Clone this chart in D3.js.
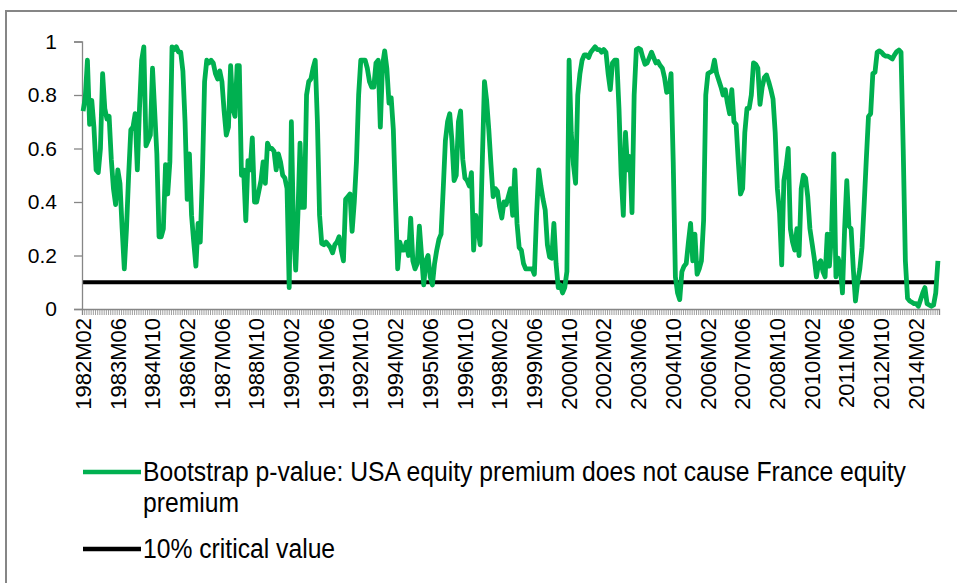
<!DOCTYPE html>
<html>
<head>
<meta charset="utf-8">
<script src="https://cdn.jsdelivr.net/npm/d3@7/dist/d3.min.js"></script>
<style>
body { margin: 0; background: #fff; }
svg { display: block; font-family: "Liberation Sans", Arial, sans-serif; }
</style>
</head>
<body>
<svg id="chart" width="957" height="583"></svg>
<script>
// monthly categories 1982M02 .. 2014M12
var startYear = 1982, startMonth = 2, monthCount = 395;
var labelEvery = 16;
var yTicks = [0, 0.2, 0.4, 0.6, 0.8, 1];
var criticalValue = 0.1;
var seriesNames = ["Bootstrap p-value: USA equity premium does not cause France equity premium", "10% critical value"];
var legendLines = ["Bootstrap p-value: USA equity premium does not cause France equity", "premium"];

var pValues = [
  0.74,0.79,0.93,0.69,0.78,0.68,0.52,0.51,0.60,0.88,
  0.75,0.71,0.72,0.56,0.45,0.39,0.52,0.47,0.30,0.15,
  0.30,0.50,0.67,0.68,0.73,0.52,0.75,0.93,0.98,0.61,
  0.63,0.65,0.90,0.74,0.58,0.27,0.27,0.30,0.54,0.43,
  0.55,0.98,0.97,0.98,0.96,0.96,0.89,0.70,0.41,0.58,
  0.35,0.25,0.16,0.32,0.25,0.50,0.85,0.93,0.92,0.93,
  0.92,0.88,0.86,0.89,0.85,0.74,0.65,0.68,0.91,0.75,
  0.72,0.91,0.91,0.50,0.52,0.33,0.555,0.52,0.64,0.40,
  0.40,0.44,0.48,0.55,0.47,0.62,0.60,0.60,0.59,0.52,
  0.58,0.55,0.50,0.49,0.45,0.08,0.70,0.29,0.145,0.35,
  0.62,0.38,0.38,0.80,0.85,0.86,0.90,0.93,0.70,0.35,
  0.245,0.24,0.25,0.24,0.23,0.21,0.24,0.25,0.27,0.22,
  0.18,0.41,0.42,0.43,0.29,0.40,0.55,0.80,0.93,0.93,
  0.93,0.90,0.85,0.83,0.83,0.92,0.93,0.68,0.91,0.965,
  0.90,0.77,0.79,0.67,0.40,0.15,0.25,0.22,0.22,0.25,
  0.20,0.34,0.18,0.15,0.17,0.31,0.20,0.09,0.18,0.20,
  0.12,0.09,0.17,0.22,0.26,0.28,0.45,0.63,0.70,0.73,
  0.63,0.48,0.50,0.70,0.74,0.56,0.49,0.48,0.46,0.51,
  0.22,0.35,0.30,0.24,0.55,0.85,0.78,0.67,0.54,0.42,
  0.45,0.44,0.38,0.34,0.40,0.39,0.42,0.45,0.35,0.52,
  0.32,0.23,0.22,0.17,0.15,0.15,0.15,0.15,0.13,0.35,
  0.52,0.46,0.41,0.37,0.24,0.195,0.19,0.32,0.17,0.08,
  0.09,0.06,0.08,0.14,0.93,0.66,0.54,0.47,0.80,0.88,
  0.93,0.95,0.95,0.94,0.96,0.97,0.98,0.97,0.97,0.96,
  0.97,0.96,0.88,0.82,0.92,0.93,0.93,0.75,0.50,0.35,
  0.66,0.52,0.57,0.36,0.80,0.97,0.975,0.97,0.94,0.915,
  0.92,0.94,0.96,0.94,0.92,0.925,0.91,0.90,0.865,0.81,
  0.815,0.88,0.55,0.12,0.06,0.035,0.14,0.16,0.17,0.25,
  0.32,0.18,0.28,0.13,0.15,0.18,0.33,0.80,0.88,0.885,
  0.89,0.93,0.88,0.855,0.83,0.80,0.82,0.77,0.73,0.82,
  0.70,0.69,0.55,0.43,0.45,0.66,0.75,0.75,0.80,0.92,
  0.915,0.90,0.765,0.83,0.865,0.875,0.85,0.82,0.785,0.66,
  0.45,0.36,0.165,0.48,0.53,0.60,0.30,0.25,0.22,0.30,
  0.20,0.45,0.50,0.49,0.42,0.30,0.245,0.19,0.12,0.17,
  0.18,0.14,0.12,0.28,0.16,0.29,0.58,0.12,0.19,0.16,
  0.06,0.30,0.48,0.31,0.30,0.15,0.03,0.10,0.15,0.23,
  0.39,0.56,0.72,0.73,0.88,0.885,0.96,0.965,0.96,0.95,
  0.945,0.945,0.94,0.935,0.95,0.962,0.968,0.96,0.60,0.18,
  0.04,0.03,0.025,0.02,0.02,0.01,0.035,0.06,0.08,0.02,
  0.015,0.01,0.015,0.06,0.18
];

var months = [];
for (var k = 0; k < monthCount; k++) {
  var mm = startMonth - 1 + k;
  var yr = startYear + Math.floor(mm / 12), mo = mm % 12 + 1;
  months.push(yr + "M" + (mo < 10 ? "0" : "") + mo);
}

var green = "#00b050", grey = "#868686";
var plot = { left: 82, right: 939, top: 41.5, bottom: 309 };

var svg = d3.select("#chart");

// outer chart frame (only the top and left edges are inside the picture)
svg.append("rect")
  .attr("x", 6).attr("y", 11).attr("width", 1200).attr("height", 1200)
  .attr("fill", "none").attr("stroke", grey).attr("stroke-width", 2);

var x = d3.scaleBand().domain(months).range([plot.left, plot.right]);
var xEdge = d3.scaleLinear().domain([0, months.length]).range([plot.left, plot.right]);
var y = d3.scaleLinear().domain([0, 1]).range([plot.bottom, plot.top]);
var cx = function(m){ return x(m) + x.bandwidth() / 2; };

// y axis
var yAxis = svg.append("g")
  .attr("transform", "translate(" + plot.left + ",0)")
  .call(d3.axisLeft(y).tickValues(yTicks).tickSize(8).tickPadding(17)
    .tickFormat(function(d){ return d === 0 || d === 1 ? d : d3.format(".1f")(d); }));
yAxis.select(".domain").attr("stroke", grey).attr("stroke-width", 1.3);
yAxis.selectAll(".tick line").attr("stroke", grey).attr("stroke-width", 1.3);
yAxis.selectAll(".tick text").attr("font-size", 21).attr("fill", "#000")
  .attr("font-family", "Liberation Sans, Arial, sans-serif");

// x axis: a tick at every category boundary
var xAxis = svg.append("g")
  .attr("transform", "translate(0," + plot.bottom + ")")
  .call(d3.axisBottom(xEdge).tickValues(d3.range(months.length + 1)).tickSize(6).tickFormat(""));
xAxis.select(".domain").attr("stroke", grey).attr("stroke-width", 1.3);
xAxis.selectAll(".tick line").attr("stroke", grey).attr("stroke-width", 0.8);

var xLabels = months.filter(function(m, i){ return i % labelEvery === 0; });
svg.append("g").selectAll("text")
  .data(xLabels).enter().append("text")
  .attr("transform", function(m){ return "translate(" + cx(m) + "," + (plot.bottom + 9) + ") rotate(-90)"; })
  .attr("text-anchor", "end").attr("dy", "0.35em")
  .attr("font-size", 22).attr("fill", "#000")
  .text(function(m){ return m; });

// critical value line
svg.append("path")
  .datum(months)
  .attr("fill", "none").attr("stroke", "#000").attr("stroke-width", 4)
  .attr("d", d3.line().x(cx).y(function(){ return y(criticalValue); }));

// bootstrap p-value line
svg.append("path")
  .datum(pValues)
  .attr("fill", "none").attr("stroke", green).attr("stroke-width", 4.8)
  .attr("stroke-linejoin", "round")
  .attr("d", d3.line().x(function(d, i){ return cx(months[i]); }).y(function(d){ return y(d); }));

// legend (text squeezed horizontally to mimic the narrow legend face)
var legend = svg.append("g").attr("class", "legend");
var items = [
  { color: green, y: 472, lines: legendLines },
  { color: "#000", y: 549, lines: [seriesNames[1]] }
];
items.forEach(function(it){
  legend.append("line")
    .attr("x1", 83).attr("x2", 141).attr("y1", it.y).attr("y2", it.y)
    .attr("stroke", it.color).attr("stroke-width", 4.5);
  var t = legend.append("text")
    .attr("transform", "translate(143," + it.y + ") scale(0.915,1)")
    .attr("font-size", 27).attr("fill", "#000");
  it.lines.forEach(function(s, j){
    t.append("tspan").attr("x", 0).attr("dy", j === 0 ? "0.35em" : 31).text(s);
  });
});
</script>
</body>
</html>
